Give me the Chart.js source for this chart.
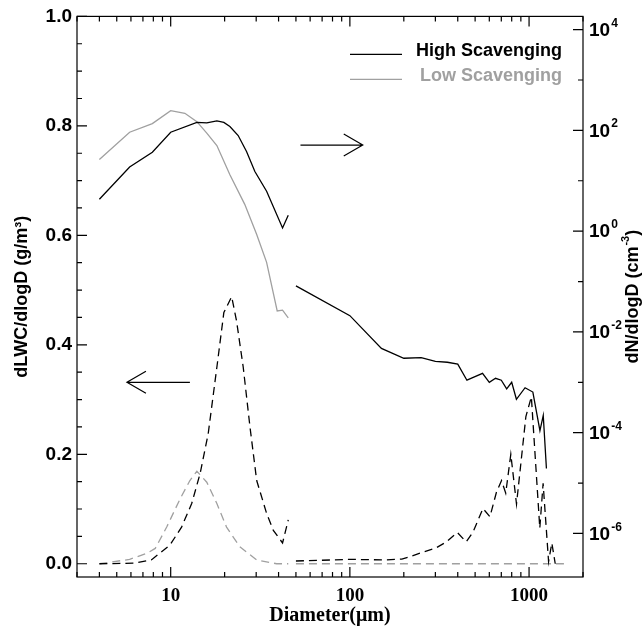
<!DOCTYPE html>
<html>
<head>
<meta charset="utf-8">
<script src="https://cdn.jsdelivr.net/npm/chart.js@4.4.1/dist/chart.umd.min.js"></script>
<style>
  html, body { margin: 0; padding: 0; background: #fff; }
  canvas { display: block; }
</style>
</head>
<body>
<canvas id="plot" width="644" height="628"></canvas>
<script>
// values; null marks the gap between the two probes
const highNumDiam = [4.0, 5.9, 7.9, 10, 14, 15.9, 18.1, 19.8, 21.4, 23.8, 26.5, 29.5, 34.3, 42.1, 45.3,
  47, 50, 100, 150, 200, 250, 300, 350, 400, 450, 550, 600, 650, 700, 750, 800, 850, 950, 1050, 1150, 1200, 1250];
const highNum = [4.3, 18.7, 36.9, 92, 144, 141, 154, 144, 119, 79, 38, 15.3, 6.2, 1.16, 2.07,
  null, 0.082, 0.021, 0.0047, 0.0030, 0.0031, 0.0026, 0.0025, 0.0023, 0.0011, 0.0015, 0.0010, 0.0012,
  0.0011, 0.00074, 0.0010, 0.00046, 0.00078, 0.00064, 0.00011, 0.00022, 0.0000195];

const lowNumDiam = [4.0, 5.9, 7.9, 10, 12, 14, 15.9, 18.1, 21.4, 25.9, 30.2, 34.3, 39.3, 42.1, 45.3];
const lowNum = [26.5, 92, 136, 246, 218, 149, 88, 50, 13.2, 3.4, 0.86, 0.24, 0.026, 0.027, 0.019];

const highLwcDiam = [4.0, 6.2, 7.8, 9.9, 11.5, 13.1, 14.6, 16.2, 18.1, 19.8, 21.9, 23.3, 25.4, 27.7, 30.2,
  34.3, 37.4, 42.1, 45.3, 47, 50, 100, 160, 195, 216, 255, 303, 346, 398, 446, 487, 553, 605, 658, 702,
  741, 791, 851, 960, 1030, 1148, 1198, 1285, 1340, 1400];
const highLwc = [0.0, 0.001, 0.007, 0.034, 0.067, 0.110, 0.165, 0.238, 0.359, 0.459, 0.488, 0.444, 0.359,
  0.25, 0.152, 0.092, 0.061, 0.038, 0.080, null, 0.005, 0.008, 0.007, 0.0085, 0.013, 0.021, 0.029, 0.040,
  0.057, 0.040, 0.058, 0.101, 0.086, 0.131, 0.152, 0.129, 0.200, 0.109, 0.269, 0.305, 0.065, 0.147,
  0.004, 0.038, 0.0];

const lowLwcDiam = [4.0, 5.9, 7.35, 8.2, 9.5, 11.3, 12.8, 14.0, 15.9, 18.1, 20.5, 24.3, 30.2, 39, 45.3, 47, 50, 1580];
const lowLwc = [0.0, 0.008, 0.019, 0.028, 0.067, 0.119, 0.152, 0.169, 0.149, 0.110, 0.067, 0.031, 0.007,
  0.0, 0.0, null, 0.0, 0.0];

const seriesNames = ["High Scavenging", "Low Scavenging"];
const xTickLabels = [10, 100, 1000];
const rightExponents = [4, 2, 0, -2, -4, -6];

const SANS = '"Liberation Sans", Arial, Helvetica, sans-serif';
const SERIF = '"Liberation Serif", "Times New Roman", serif';
const GRAY = "#a0a0a0";

const pts = (xs, ys) => xs.map((x, i) => ({ x, y: ys[i] }));
const isInt = (v, tol) => Math.abs(v - Math.round(v)) < (tol || 1e-6);

function arrow(ctx, x0, x1, y, headAtStart) {
  ctx.beginPath();
  ctx.moveTo(x0, y); ctx.lineTo(x1, y);
  const hx = headAtStart ? x0 : x1;
  const dir = headAtStart ? 1 : -1;
  ctx.moveTo(hx + dir * 19, y - 11);
  ctx.lineTo(hx, y);
  ctx.lineTo(hx + dir * 19, y + 11);
  ctx.stroke();
}

// base text followed by a raised smaller exponent, left aligned at x
function textWithSup(ctx, base, exp, x, y, size, supSize) {
  ctx.textAlign = "left";
  ctx.textBaseline = "middle";
  ctx.font = "bold " + size + "px " + SANS;
  ctx.fillText(base, x, y);
  const w = ctx.measureText(base).width;
  ctx.font = "bold " + supSize + "px " + SANS;
  ctx.fillText(exp, x + w + 1, y - size * 0.38);
  return w + 1 + ctx.measureText(exp).width;
}

const decorations = {
  id: "decorations",
  afterDatasetsDraw(chart) {
    const { ctx, chartArea: ca, scales } = chart;
    const x = scales.x, y = scales.y, yR = scales.yR;
    ctx.save();
    ctx.strokeStyle = "#000";
    ctx.lineWidth = 1.2;
    ctx.strokeRect(ca.left, ca.top, ca.right - ca.left, ca.bottom - ca.top);

    ctx.beginPath();
    x.ticks.forEach(t => {
      const e = Math.log10(t.value);
      const m = t.value / Math.pow(10, Math.floor(e + 1e-9));
      if (!isInt(m, 1e-6)) return;
      const len = isInt(e, 1e-9) ? 10 : 5;
      const px = x.getPixelForValue(t.value);
      ctx.moveTo(px, ca.bottom); ctx.lineTo(px, ca.bottom - len);
      ctx.moveTo(px, ca.top); ctx.lineTo(px, ca.top + len);
    });
    y.ticks.forEach(t => {
      if (!isInt(t.value / 0.05)) return;
      const len = isInt(t.value / 0.2) ? 10 : 5;
      const py = y.getPixelForValue(t.value);
      ctx.moveTo(ca.left, py); ctx.lineTo(ca.left + len, py);
    });
    yR.ticks.forEach(t => {
      const e = Math.log10(t.value);
      if (!isInt(e, 1e-9)) return;
      const len = Math.round(e) % 2 === 0 ? 10 : 5;
      const py = yR.getPixelForValue(t.value);
      ctx.moveTo(ca.right, py); ctx.lineTo(ca.right - len, py);
    });
    ctx.stroke();

    // direction arrows pointing to each axis
    arrow(ctx, x.getPixelForValue(53), x.getPixelForValue(118), y.getPixelForValue(0.765), false);
    arrow(ctx, x.getPixelForValue(5.7), x.getPixelForValue(12.8), y.getPixelForValue(0.3315), true);

    // right axis labels with raised exponents
    ctx.fillStyle = "#000";
    rightExponents.forEach(e => {
      textWithSup(ctx, "10", String(e), ca.right + 6, yR.getPixelForValue(Math.pow(10, e)) + 1, 19, 12);
    });

    // legend
    const colors = ["#000", GRAY];
    ctx.font = "bold 18px " + SANS;
    ctx.textAlign = "right";
    ctx.textBaseline = "alphabetic";
    seriesNames.forEach((name, i) => {
      const ly = ca.top + 38 + i * 25;
      ctx.strokeStyle = colors[i];
      ctx.beginPath();
      ctx.moveTo(ca.left + 273, ly); ctx.lineTo(ca.left + 325, ly);
      ctx.stroke();
      ctx.fillStyle = colors[i];
      ctx.fillText(name, ca.right - 21, ly + 2);
    });

    // right axis title, read bottom to top
    ctx.fillStyle = "#000";
    ctx.translate(633, (ca.top + ca.bottom) / 2);
    ctx.rotate(-Math.PI / 2);
    ctx.font = "bold 18px " + SANS;
    const w1 = ctx.measureText("dN/dlogD (cm").width;
    ctx.font = "bold 11px " + SANS;
    const w2 = ctx.measureText("-3").width;
    ctx.font = "bold 18px " + SANS;
    const w3 = ctx.measureText(")").width;
    let tx = -(w1 + w2 + w3 + 1) / 2;
    tx += textWithSup(ctx, "dN/dlogD (cm", "-3", tx, 0, 18, 11);
    ctx.font = "bold 18px " + SANS;
    ctx.fillText(")", tx, 0);
    ctx.restore();
  }
};

new Chart(document.getElementById("plot"), {
  type: "line",
  data: {
    datasets: [
      { label: seriesNames[0], data: pts(highNumDiam, highNum), yAxisID: "yR", borderColor: "#000", borderWidth: 1.3 },
      { label: seriesNames[1], data: pts(lowNumDiam, lowNum), yAxisID: "yR", borderColor: GRAY, borderWidth: 1.3 },
      { data: pts(highLwcDiam, highLwc), yAxisID: "y", borderColor: "#000", borderWidth: 1.3, borderDash: [8, 5] },
      { data: pts(lowLwcDiam, lowLwc), yAxisID: "y", borderColor: GRAY, borderWidth: 1.3, borderDash: [8, 5] }
    ]
  },
  options: {
    responsive: false,
    animation: false,
    devicePixelRatio: 1,
    spanGaps: false,
    layout: { padding: { top: 15, left: 0, right: 0, bottom: 0 } },
    elements: { point: { radius: 0 }, line: { tension: 0 } },
    plugins: { legend: { display: false }, tooltip: { enabled: false } },
    scales: {
      x: {
        type: "logarithmic",
        min: 3, max: 2000,
        grid: { display: false, drawTicks: false },
        border: { display: false },
        afterFit: s => { s.height = 51; },
        ticks: {
          autoSkip: false, maxRotation: 0, padding: 8, color: "#000",
          font: { family: SERIF, size: 19, weight: "bold" },
          callback: v => xTickLabels.includes(Math.round(v)) && isInt(Math.log10(v), 1e-9) ? String(Math.round(v)) : ""
        },
        title: {
          display: true, text: "Diameter(\u03BCm)", color: "#000",
          font: { family: SERIF, size: 20, weight: "bold" },
          padding: { top: 0, bottom: 0 }
        }
      },
      y: {
        type: "linear", position: "left",
        min: -0.0242, max: 1.0,
        grid: { display: false, drawTicks: false },
        border: { display: false },
        afterFit: s => { s.width = 77; },
        ticks: {
          stepSize: 0.05, includeBounds: false, autoSkip: false, padding: 5, color: "#000",
          font: { family: SANS, size: 19, weight: "bold" },
          callback: v => isInt(v / 0.2) ? v.toFixed(1) : ""
        },
        title: {
          display: true, text: "dLWC/dlogD (g/m\u00B3)", color: "#000",
          font: { family: SANS, size: 18, weight: "bold" },
          padding: { top: 11, bottom: 0 }
        }
      },
      yR: {
        type: "logarithmic", position: "right",
        min: 1.365e-7, max: 1.83e4,
        grid: { display: false, drawTicks: false },
        border: { display: false },
        afterFit: s => { s.width = 61; },
        ticks: { display: false, autoSkip: false }
      }
    }
  },
  plugins: [decorations]
});
</script>
</body>
</html>
